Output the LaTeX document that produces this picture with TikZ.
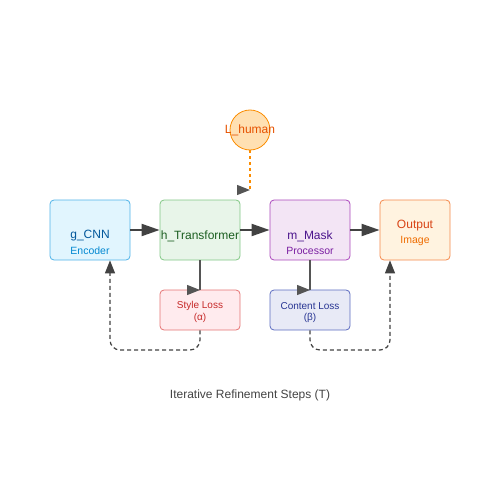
\documentclass[tikz,border=0pt]{standalone}
\usepackage{fontspec}
\setmainfont{Liberation Sans}
\usetikzlibrary{arrows.meta}

\definecolor{cnnfill}{HTML}{E1F5FE}
\definecolor{cnndraw}{HTML}{4FB3E8}
\definecolor{cnntext}{HTML}{01579B}
\definecolor{cnnsub}{HTML}{0288D1}
\definecolor{trfill}{HTML}{E8F5E9}
\definecolor{trdraw}{HTML}{81C784}
\definecolor{trtext}{HTML}{1B5E20}
\definecolor{mkfill}{HTML}{F3E5F5}
\definecolor{mkdraw}{HTML}{AB47BC}
\definecolor{mktext}{HTML}{4A148C}
\definecolor{mksub}{HTML}{7B1FA2}
\definecolor{oufill}{HTML}{FFF3E0}
\definecolor{oudraw}{HTML}{F4894A}
\definecolor{outext}{HTML}{D84315}
\definecolor{ousub}{HTML}{EF6C00}
\definecolor{hufill}{HTML}{FFE0B2}
\definecolor{hudraw}{HTML}{FB8C00}
\definecolor{hutext}{HTML}{E65100}
\definecolor{stfill}{HTML}{FFEBEE}
\definecolor{stdraw}{HTML}{E57373}
\definecolor{sttext}{HTML}{C62828}
\definecolor{cofill}{HTML}{E8EAF6}
\definecolor{codraw}{HTML}{5C6BC0}
\definecolor{cotext}{HTML}{283593}
\definecolor{edgegray}{HTML}{424242}

\begin{document}
\begin{tikzpicture}[x=1pt,y=-1pt,
    block/.style={rectangle,rounded corners=4pt,thick,minimum width=80pt,minimum height=60pt,inner sep=0pt},
    loss/.style={rectangle,rounded corners=4pt,thick,minimum width=80pt,minimum height=40pt,inner sep=0pt},
    title/.style={font=\fontsize{12}{12}\selectfont,inner sep=0pt},
    sub/.style={font=\fontsize{10.5}{10.5}\selectfont,inner sep=0pt},
    small/.style={font=\fontsize{10}{10}\selectfont,inner sep=0pt},
    flow/.style={draw=edgegray,line width=2pt,-{Triangle[length=18pt,width=12pt]}},
    probe/.style={draw=edgegray!90,line width=1.3pt,-{Triangle[length=13pt,width=10pt]}},
    loop/.style={draw=edgegray,line width=1.2pt,dash pattern=on 4pt off 3pt,rounded corners=10pt,-{Triangle[length=13pt,width=10pt]}},
    humanline/.style={draw=hudraw,line width=1.3pt,dash pattern=on 3pt off 3pt}]
    \useasboundingbox (0,0) rectangle (500,500);

    \node[block,fill=cnnfill,draw=cnndraw] (gcnn) at (90,230) {};
    \node[block,fill=trfill,draw=trdraw] (htr) at (200,230) {};
    \node[block,fill=mkfill,draw=mkdraw] (mmask) at (310,230) {};
    \node[block,fill=oufill,draw=oudraw,minimum width=70pt] (out) at (415,230) {};
    \node[circle,thick,fill=hufill,draw=hudraw,minimum size=40pt,inner sep=0pt] (lhum) at (250,130) {};
    \node[loss,fill=stfill,draw=stdraw] (style) at (200,310) {};
    \node[loss,fill=cofill,draw=codraw] (content) at (310,310) {};

    \node[title,text=cnntext] (gcnnname) at (90,236) {g\_CNN};
    \node[sub,text=cnnsub] (gcnnsub) at (90,251) {Encoder};
    \node[title,text=trtext] (htrname) at (200,236) {h\_Transformer};
    \node[title,text=mktext] (mmaskname) at (310,236) {m\_Mask};
    \node[sub,text=mksub] (mmasksub) at (310,251) {Processor};
    \node[title,text=outext] (outname) at (415,226) {Output};
    \node[sub,text=ousub] (outsub) at (415,241) {Image};
    \node[title,text=hutext] (lhumname) at (250,130) {L\_human};
    \node[small,text=sttext] (stylename) at (200,306) {Style Loss};
    \node[small,text=sttext] (stylesub) at (200,318) {(α)};
    \node[small,text=cotext] (contentname) at (310,306) {Content Loss};
    \node[small,text=cotext] (contentsub) at (310,318) {(β)};
    \node[title,text=edgegray] (steps) at (250,395) {Iterative Refinement Steps (T)};

    \coordinate (hum) at (250,190);
    \coordinate (stylein) at (200,290);
    \coordinate (contentin) at (310,290);

    \path (gcnn) edge[flow] (htr);
    \path (htr) edge[flow] (mmask);
    \path (mmask) edge[flow] (out);

    \path (lhum) edge[humanline] (hum);
    \path ([xshift=-13pt]hum) edge[probe] (hum);
    \path (htr.south) edge[probe,-] (stylein);
    \path ([xshift=-13pt]stylein) edge[probe] (stylein);
    \path (mmask.south) edge[probe,-] (contentin);
    \path ([xshift=-13pt]contentin) edge[probe] (contentin);

    \draw[loop] (style.south) -- (200,350) -- (110,350) -- (gcnn.south -| 110,0);
    \draw[loop] (content.south) -- (310,350) -- (390,350) -- (out.south -| 390,0);
  \end{tikzpicture}
\end{document}
